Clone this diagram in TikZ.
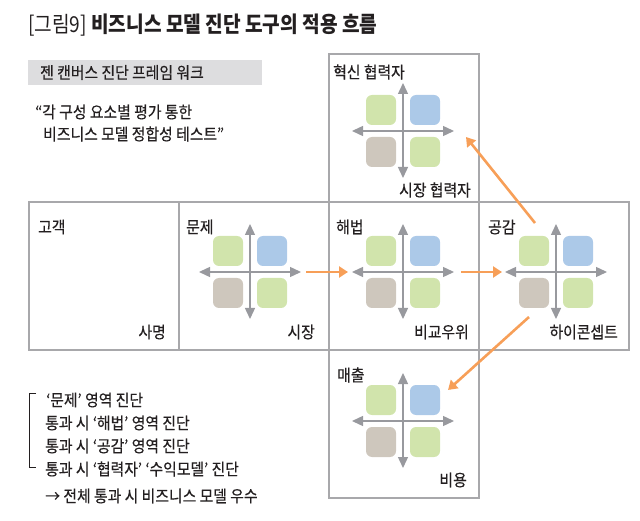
\documentclass[tikz,border=0pt]{standalone}
\usepackage{fontspec}
\newfontfamily\kr[FakeStretch=0.9,FakeBold=0.35]{Noto Sans CJK KR}
\newfontfamily\krtitle[FakeStretch=0.87]{Noto Sans CJK KR}
\usetikzlibrary{arrows.meta}
\definecolor{qgreen}{RGB}{209,228,172}
\definecolor{qblue}{RGB}{172,201,232}
\definecolor{qbrown}{RGB}{206,199,189}
\definecolor{qarrow}{RGB}{152,153,158}
\definecolor{flow}{RGB}{247,159,88}
\definecolor{frame}{RGB}{168,168,171}
\definecolor{barfill}{RGB}{221,221,223}
\definecolor{ink}{RGB}{35,31,32}
\newcommand{\quadmark}[2]{% name, centre
\coordinate (#1) at (#2);
\begin{scope}[shift={(#1)}]
\fill[qgreen,rounded corners=6pt] (-37,-36) rectangle (-7,-6);
\fill[qblue,rounded corners=6pt] (7,-36) rectangle (37,-6);
\fill[qbrown,rounded corners=6pt] (-37,6) rectangle (-7,36);
\fill[qgreen,rounded corners=6pt] (7,6) rectangle (37,36);
\coordinate (#1-w) at (-51,0);
\coordinate (#1-e) at (51,0);
\coordinate (#1-n) at (0,-48);
\coordinate (#1-s) at (0,47);
\end{scope}
\draw[axis] (#1-w) -- (#1-e);
\draw[axis] (#1-n) -- (#1-s);
}
\tikzset{
cell/.style={draw=frame,line width=1.1pt,minimum width=150pt,minimum height=148pt,inner sep=0pt},
lbl/.style={inner sep=0pt,text=ink,font=\kr\fontsize{16.5}{19}\selectfont},
axis/.style={draw=qarrow,line width=1.4pt,{Triangle[length=11pt,width=10pt]}-{Triangle[length=11pt,width=10pt]}},
flowarrow/.style={draw=flow,line width=2.6pt,-{Triangle[length=9pt,width=11pt]}},
bracket/.style={draw=ink,line width=0.8pt},
}
\begin{document}
\begin{tikzpicture}[x=1pt,y=-1pt]
\useasboundingbox (0,0) rectangle (640,521);
% title and frame work bar
\node[inner sep=0pt,anchor=west,text=ink] (title) at (28,25) {\krtitle\fontsize{22}{25}\selectfont [그림9] \bfseries 비즈니스 모델 진단 도구의 적용 흐름};
\node[fill=barfill,minimum width=234pt,minimum height=25pt,inner sep=0pt,anchor=west] (fwbar) at (28,72.5) {};
\node[lbl,anchor=west] (fw) at (40,72.5) {젠 캔버스 진단 프레임 워크};
\node[lbl,anchor=west] (q1) at (35,112) {“각 구성 요소별 평가 통한};
\node[lbl,anchor=west] (q2) at (43,134) {비즈니스 모델 정합성 테스트”};
% cells
\node[cell] (cust) at (104,276) {};
\node[cell] (prob) at (254,276) {};
\node[cell] (sol) at (404,276) {};
\node[cell] (emp) at (554,276) {};
\node[cell] (part) at (404,128) {};
\node[cell] (rev) at (404,424) {};
% cell labels
\node[lbl,anchor=west] (cust-t) at (38,227) {고객};
\node[lbl,anchor=east] (cust-b) at (166,332) {사명};
\node[lbl,anchor=west] (prob-t) at (186,227) {문제};
\node[lbl,anchor=east] (prob-b) at (315,332) {시장};
\node[lbl,anchor=west] (sol-t) at (336,227) {해법};
\node[lbl,anchor=east] (sol-b) at (469,332) {비교우위};
\node[lbl,anchor=west] (emp-t) at (488,227) {공감};
\node[lbl,anchor=east] (emp-b) at (618,332) {하이콘셉트};
\node[lbl,anchor=west] (part-t) at (333,72) {혁신 협력자};
\node[lbl,anchor=east] (part-b) at (471,190) {시장 협력자};
\node[lbl,anchor=west] (rev-t) at (337,375) {매출};
\node[lbl,anchor=east] (rev-b) at (467,480) {비용};
% quadrant marks
\quadmark{pq}{250,272}
\quadmark{sq}{403,272}
\quadmark{eq}{556,272}
\quadmark{cq}{403,131}
\quadmark{rq}{403,421}
% flow
\draw[flowarrow] ([xshift=5pt]pq-e) -- ([xshift=-4pt]sq-w);
\draw[flowarrow] ([xshift=7pt]sq-e) -- ([xshift=-3pt]eq-w);
\draw[flowarrow] ([shift={(-21,-49)}]eq) -- ([shift={(63,6)}]cq);
\draw[flowarrow] ([shift={(-27,45)}]eq) -- ([shift={(45,-31)}]rq);
% check list
\node[lbl,anchor=west] (l1) at (46,400) {‘문제’ 영역 진단};
\node[lbl,anchor=west] (l2) at (45,423) {통과 시 ‘해법’ 영역 진단};
\node[lbl,anchor=west] (l3) at (45,446) {통과 시 ‘공감’ 영역 진단};
\node[lbl,anchor=west] (l4) at (45,469) {통과 시 ‘협력자’ ‘수익모델’ 진단};
\coordinate (brtop) at (36,393);
\coordinate (brbot) at (36,467);
\draw[bracket] (brtop) -- ++(-7,0) |- (brbot);
\node[lbl,anchor=west] (res) at (45,496) {→ 전체 통과 시 비즈니스 모델 우수};
\end{tikzpicture}
\end{document}
